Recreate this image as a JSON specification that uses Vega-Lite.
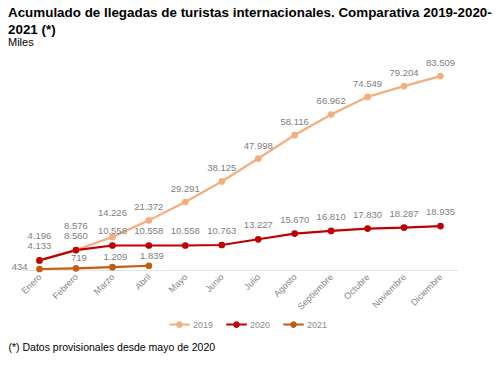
{
  "$schema": "https://vega.github.io/schema/vega-lite/v6.json",
  "width": 436,
  "height": 209,
  "autosize": {"type": "none"},
  "padding": {"left": 22, "top": 61, "right": 42, "bottom": 96},
  "background": "white",
  "title": {
    "text": ["Acumulado de llegadas de turistas internacionales. Comparativa 2019-2020-", "2021 (*)"],
    "subtitle": "Miles",
    "anchor": "start",
    "frame": "group",
    "dx": -14,
    "offset": 10,
    "font": "Liberation Sans",
    "fontSize": 13.4,
    "fontWeight": "bold",
    "color": "#000000",
    "lineHeight": 17,
    "subtitleFont": "Liberation Sans",
    "subtitleFontSize": 11,
    "subtitleColor": "#000000",
    "subtitlePadding": 1
  },
  "data": {
    "values": [
      {"mes": "Enero", "anio": "2019", "valor": 4196},
      {"mes": "Febrero", "anio": "2019", "valor": 8576},
      {"mes": "Marzo", "anio": "2019", "valor": 14226},
      {"mes": "Abril", "anio": "2019", "valor": 21372},
      {"mes": "Mayo", "anio": "2019", "valor": 29291},
      {"mes": "Junio", "anio": "2019", "valor": 38125},
      {"mes": "Julio", "anio": "2019", "valor": 47998},
      {"mes": "Agosto", "anio": "2019", "valor": 58116},
      {"mes": "Septiembre", "anio": "2019", "valor": 66962},
      {"mes": "Octubre", "anio": "2019", "valor": 74549},
      {"mes": "Noviembre", "anio": "2019", "valor": 79204},
      {"mes": "Diciembre", "anio": "2019", "valor": 83509},
      {"mes": "Enero", "anio": "2020", "valor": 4133},
      {"mes": "Febrero", "anio": "2020", "valor": 8560},
      {"mes": "Marzo", "anio": "2020", "valor": 10558},
      {"mes": "Abril", "anio": "2020", "valor": 10558},
      {"mes": "Mayo", "anio": "2020", "valor": 10558},
      {"mes": "Junio", "anio": "2020", "valor": 10763},
      {"mes": "Julio", "anio": "2020", "valor": 13227},
      {"mes": "Agosto", "anio": "2020", "valor": 15670},
      {"mes": "Septiembre", "anio": "2020", "valor": 16810},
      {"mes": "Octubre", "anio": "2020", "valor": 17830},
      {"mes": "Noviembre", "anio": "2020", "valor": 18287},
      {"mes": "Diciembre", "anio": "2020", "valor": 18935},
      {"mes": "Enero", "anio": "2021", "valor": 434},
      {"mes": "Febrero", "anio": "2021", "valor": 719},
      {"mes": "Marzo", "anio": "2021", "valor": 1209},
      {"mes": "Abril", "anio": "2021", "valor": 1839}
    ]
  },
  "encoding": {
    "x": {
      "field": "mes",
      "type": "ordinal",
      "sort": ["Enero", "Febrero", "Marzo", "Abril", "Mayo", "Junio", "Julio", "Agosto", "Septiembre", "Octubre", "Noviembre", "Diciembre"],
      "scale": {"type": "point", "padding": 0.48},
      "axis": {
        "title": "(*) Datos provisionales desde mayo de 2020",
        "titleFont": "Liberation Sans",
        "titleFontSize": 10.5,
        "titleFontWeight": "normal",
        "titleColor": "#000000",
        "titleAnchor": "start",
        "titleAlign": "left",
        "titleBaseline": "middle",
        "titleX": -14,
        "titleY": 77,
        "labelAngle": -45,
        "labelAlign": "right",
        "labelBaseline": "middle",
        "labelPadding": 5,
        "labelFont": "Liberation Sans",
        "labelFontSize": 9,
        "labelColor": "#858585",
        "ticks": false,
        "domainColor": "#e3e3e3",
        "domainWidth": 1,
        "grid": false
      }
    },
    "y": {
      "field": "valor",
      "type": "quantitative",
      "scale": {"domain": [0, 90000]},
      "axis": null
    },
    "color": {
      "field": "anio",
      "type": "nominal",
      "scale": {"domain": ["2019", "2020", "2021"], "range": ["#F4AE7E", "#C00000", "#C55A11"]},
      "legend": {
        "orient": "none",
        "direction": "horizontal",
        "legendX": 146,
        "legendY": 252,
        "title": null,
        "labelFont": "Liberation Sans",
        "labelFontSize": 9,
        "labelColor": "#8c8c8c",
        "symbolType": "M-1,0H1M-0.22,0A0.22,0.22,0,1,0,0.22,0A0.22,0.22,0,1,0,-0.22,0",
        "symbolSize": 420,
        "symbolStrokeWidth": 2,
        "labelOffset": 2,
        "columnPadding": 8
      }
    }
  },
  "layer": [
    {"mark": {"type": "line", "strokeWidth": 2.2}},
    {"mark": {"type": "point", "filled": true, "size": 45, "opacity": 1}},
    {
      "transform": [{"filter": "datum.anio == '2019' && indexof(['Enero','Febrero','Marzo'], datum.mes) >= 0"}],
      "mark": {"type": "text", "dy": -24, "font": "Liberation Sans", "fontSize": 9.5},
      "encoding": {"text": {"field": "valor", "type": "quantitative", "format": ",d"}, "color": {"value": "#808080"}}
    },
    {
      "transform": [{"filter": "datum.anio == '2019' && indexof(['Enero','Febrero','Marzo'], datum.mes) < 0"}],
      "mark": {"type": "text", "dy": -13, "font": "Liberation Sans", "fontSize": 9.5},
      "encoding": {"text": {"field": "valor", "type": "quantitative", "format": ",d"}, "color": {"value": "#808080"}}
    },
    {
      "transform": [{"filter": "datum.anio == '2020'"}],
      "mark": {"type": "text", "dy": -14, "font": "Liberation Sans", "fontSize": 9.5},
      "encoding": {"text": {"field": "valor", "type": "quantitative", "format": ",d"}, "color": {"value": "#808080"}}
    },
    {
      "transform": [{"filter": "datum.anio == '2021' && datum.mes != 'Enero'"}],
      "mark": {"type": "text", "dy": -10, "dx": 3, "font": "Liberation Sans", "fontSize": 9.5},
      "encoding": {"text": {"field": "valor", "type": "quantitative", "format": ",d"}, "color": {"value": "#808080"}}
    },
    {
      "transform": [{"filter": "datum.anio == '2021' && datum.mes == 'Enero'"}],
      "mark": {"type": "text", "dx": -12, "dy": -2, "align": "right", "font": "Liberation Sans", "fontSize": 9.5},
      "encoding": {"text": {"field": "valor", "type": "quantitative", "format": ",d"}, "color": {"value": "#808080"}}
    }
  ],
  "config": {
    "view": {"stroke": null},
    "locale": {"number": {"decimal": ",", "thousands": ".", "grouping": [3], "currency": ["", " €"]}}
  }
}
